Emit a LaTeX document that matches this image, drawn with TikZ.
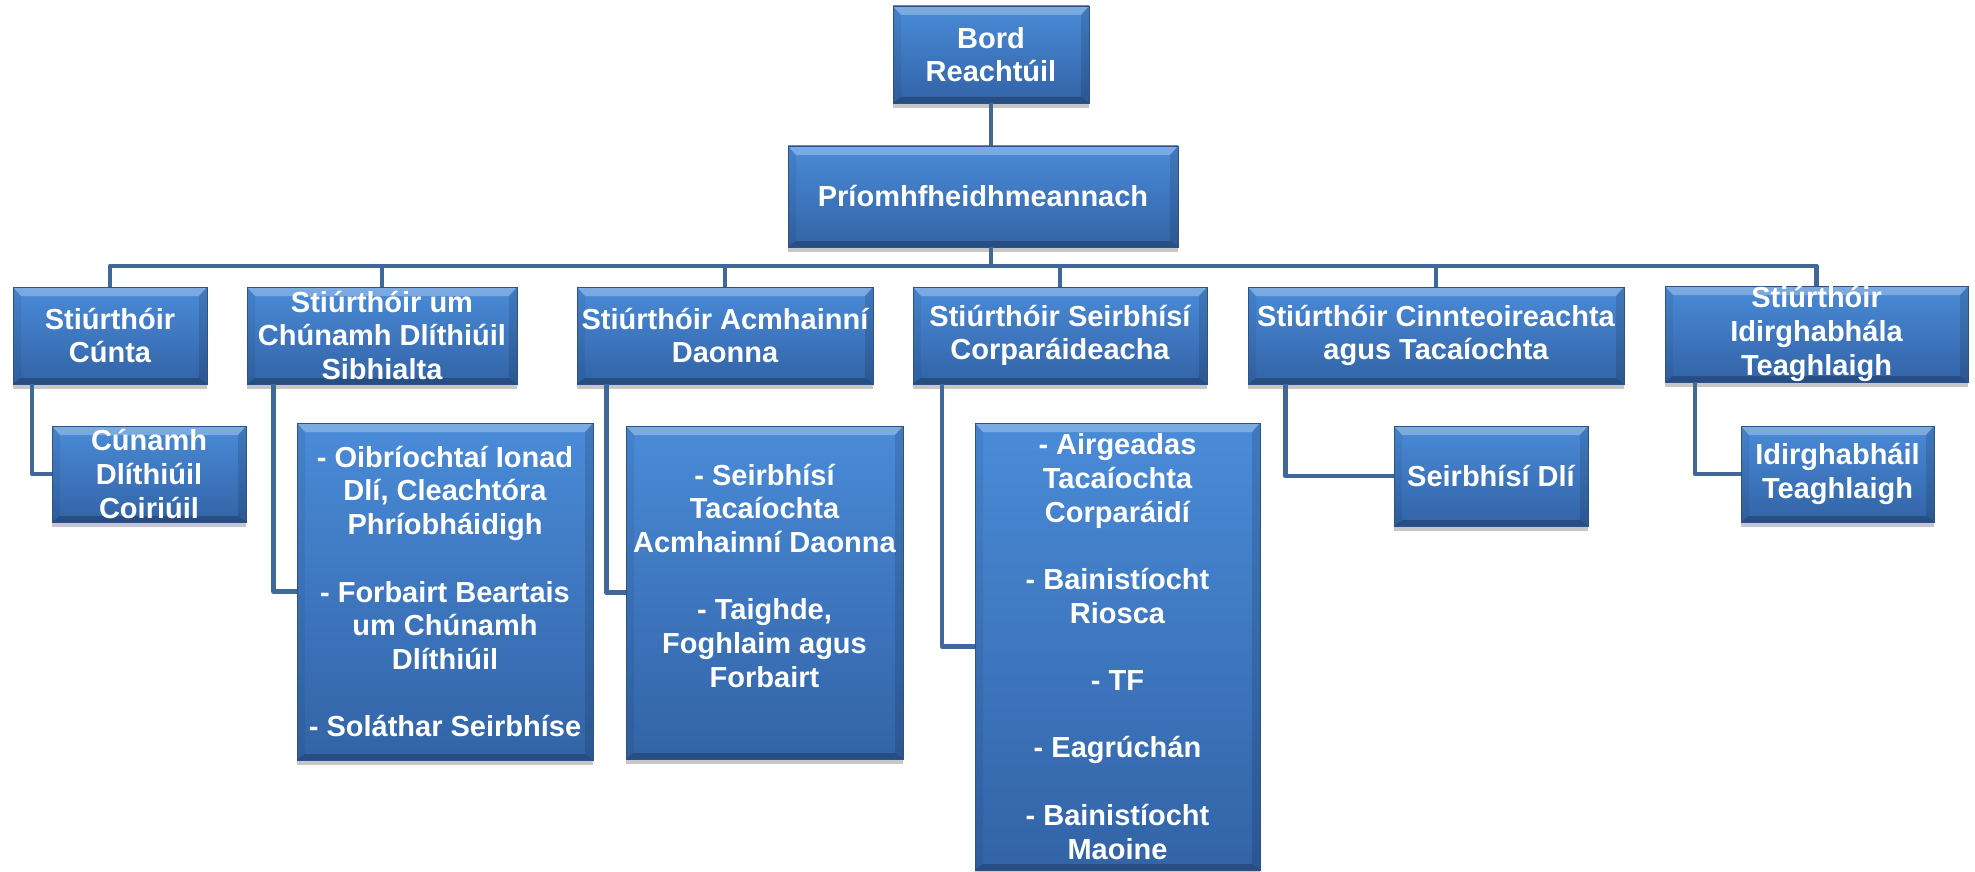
\documentclass[tikz,border=0pt]{standalone}
\usepackage{fontspec}
\setmainfont{Liberation Sans}
\usetikzlibrary{shadows,calc}
\definecolor{boxtop}{RGB}{74,139,216}
\definecolor{boxbot}{RGB}{50,99,166}
\definecolor{boxline}{RGB}{44,82,135}
\definecolor{conncol}{RGB}{64,104,152}
\tikzset{
  orgbox/.style={rectangle, draw=boxline, line width=0.8pt,
    top color=boxtop, bottom color=boxbot, text=white,
    font=\fontsize{29}{33.7}\selectfont\bfseries, align=center, inner sep=0pt,
    drop shadow={shadow xshift=0pt, shadow yshift=-5pt, opacity=0.22, fill=black},
    path picture={
      \path (path picture bounding box.north west) coordinate (pnw)
            (path picture bounding box.north east) coordinate (pne)
            (path picture bounding box.south west) coordinate (psw)
            (path picture bounding box.south east) coordinate (pse);
      \fill[white,opacity=0.28] (pnw) -- (pne) -- ([xshift=-8pt,yshift=-9pt]pne) -- ([xshift=8pt,yshift=-9pt]pnw) -- cycle;
      \fill[black,opacity=0.22] (psw) -- (pse) -- ([xshift=-8pt,yshift=6pt]pse) -- ([xshift=8pt,yshift=6pt]psw) -- cycle;
      \fill[black,opacity=0.06] (pnw) -- ([xshift=8pt,yshift=-9pt]pnw) -- ([xshift=8pt,yshift=6pt]psw) -- (psw) -- cycle;
      \fill[black,opacity=0.12] (pne) -- ([xshift=-8pt,yshift=-9pt]pne) -- ([xshift=-8pt,yshift=6pt]pse) -- (pse) -- cycle;
    }},
  conn/.style={draw=conncol, line width=4.5pt, line join=round},
}
\begin{document}
\begin{tikzpicture}[x=1pt,y=-1pt]
\useasboundingbox (0,0) rectangle (1975,872);
% top
\node[orgbox, minimum width=196pt, minimum height=97pt] (bord) at (991,54.5) {Bord\\Reachtúil};
\node[orgbox, minimum width=390pt, minimum height=101pt] (priomh) at (983,196.5) {Príomhfheidhmeannach};
% directors
\node[orgbox, minimum width=194pt, minimum height=97pt] (s1) at (110,335.5) {Stiúrthóir\\Cúnta};
\node[orgbox, minimum width=270pt, minimum height=97pt] (s2) at (382,335.5) {Stiúrthóir um\\Chúnamh Dlíthiúil\\Sibhialta};
\node[orgbox, minimum width=296pt, minimum height=97pt] (s3) at (725,335.5) {Stiúrthóir Acmhainní\\Daonna};
\node[orgbox, minimum width=294pt, minimum height=97pt] (s4) at (1060,335.5) {Stiúrthóir Seirbhísí\\Corparáideacha};
\node[orgbox, minimum width=376pt, minimum height=97pt] (s5) at (1436,335.5) {Stiúrthóir Cinnteoireachta\\agus Tacaíochta};
\node[orgbox, minimum width=303pt, minimum height=96pt] (s6) at (1816.5,334) {Stiúrthóir\\Idirghabhála\\Teaghlaigh};
% children
\node[orgbox, minimum width=194pt, minimum height=96pt] (c1) at (149,474) {Cúnamh\\Dlíthiúil\\Coiriúil};
\node[orgbox, minimum width=296pt, minimum height=337pt] (c2) at (445,591.5) {- Oibríochtaí Ionad\\Dlí, Cleachtóra\\Phríobháidigh\\[33.7pt]- Forbairt Beartais\\um Chúnamh\\Dlíthiúil\\[33.7pt]- Soláthar Seirbhíse};
\node[orgbox, minimum width=277pt, minimum height=333pt] (c3) at (764.5,592.5) {- Seirbhísí\\Tacaíochta\\Acmhainní Daonna\\[33.7pt]- Taighde,\\Foghlaim agus\\Forbairt\\\mbox{}};
\node[orgbox, minimum width=285pt, minimum height=447pt] (c4) at (1117.5,646.5) {- Airgeadas\\Tacaíochta\\Corparáidí\\[33.7pt]- Bainistíocht\\Riosca\\[33.7pt]- TF\\[33.7pt]- Eagrúchán\\[33.7pt]- Bainistíocht\\Maoine};
\node[orgbox, minimum width=194pt, minimum height=100pt] (c5) at (1491,476) {Seirbhísí Dlí};
\node[orgbox, minimum width=193pt, minimum height=96pt] (c6) at (1837.5,474) {Idirghabháil\\Teaghlaigh};
% connectors
\coordinate (barref) at (0,266);
\draw[conn] (bord.south) -- (bord.south |- priomh.north);
\draw[conn] (bord.south |- priomh.south) -- (bord.south |- barref);
\draw[conn] (s1.north) -- (s1.north |- barref) -- (s6.north |- barref) -- (s6.north);
\foreach \s in {s2,s3,s4,s5} \draw[conn] (\s.north |- barref) -- (\s.north);
\draw[conn] ($(s1.south west)!0.1!(s1.south east)$) |- (c1.west);
\draw[conn] ($(s2.south west)!0.1!(s2.south east)$) |- (c2.west);
\draw[conn] ($(s3.south west)!0.1!(s3.south east)$) |- (c3.west);
\draw[conn] ($(s4.south west)!0.1!(s4.south east)$) |- (c4.west);
\draw[conn] ($(s5.south west)!0.1!(s5.south east)$) |- (c5.west);
\draw[conn] ($(s6.south west)!0.1!(s6.south east)$) |- (c6.west);
\end{tikzpicture}
\end{document}
